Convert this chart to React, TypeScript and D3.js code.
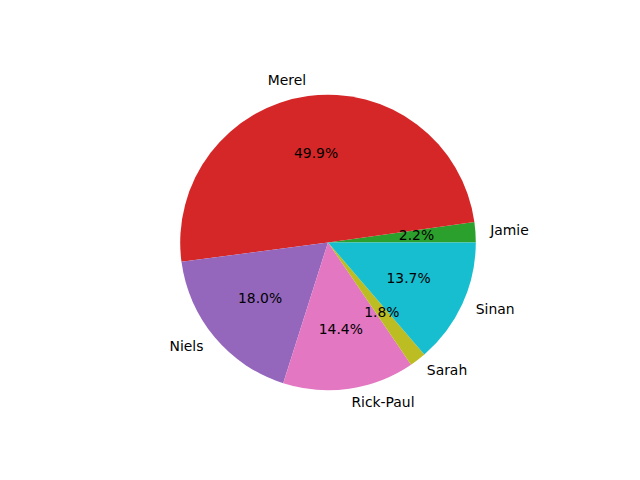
import React from "react";
import * as d3 from "d3";

// slice data, in drawing order (counter-clockwise from 3 o'clock)
const names = ["Jamie", "Merel", "Niels", "Rick-Paul", "Sarah", "Sinan"];
const shares = [2.2, 49.9, 18.0, 14.4, 1.8, 13.7];
const colors = ["#2ca02c", "#d62728", "#9467bd", "#e377c2", "#bcbd22", "#17becf"];

const W = 640;
const H = 480;
const cx = 328;
const cy = 242.4;
const R = 147.8;
const FONT = "DejaVu Sans, sans-serif";

export default function App() {
  const items = names.map((n, i) => ({ name: n, value: shares[i], color: colors[i] }));

  // matplotlib: start at east, go counter-clockwise
  const pie = d3
    .pie<{ name: string; value: number; color: string }>()
    .sort(null)
    .value((d) => d.value)
    .startAngle(Math.PI / 2)
    .endAngle(Math.PI / 2 - 2 * Math.PI);

  const arcs = pie(items);
  const arc = d3.arc<d3.PieArcDatum<any>>().innerRadius(0).outerRadius(R);
  const labelArc = d3.arc<d3.PieArcDatum<any>>().innerRadius(R * 1.1).outerRadius(R * 1.1);
  const pctArc = d3.arc<d3.PieArcDatum<any>>().innerRadius(R * 0.6).outerRadius(R * 0.6);

  return (
    <svg width={W} height={H} style={{ display: "block", margin: "-8px" }}>
      <rect width={W} height={H} fill="#ffffff" />
      <g transform={`translate(${cx},${cy})`}>
        {arcs.map((a) => (
          <path key={a.data.name} d={arc(a) || ""} fill={a.data.color} />
        ))}
        {arcs.map((a) => {
          const [lx, ly] = labelArc.centroid(a);
          return (
            <text
              key={"l" + a.data.name}
              x={lx}
              y={ly}
              dy="0.28em"
              textAnchor={lx > 0 ? "start" : "end"}
              fontFamily={FONT}
              fontSize={13.9}
              fill="#000"
            >
              {a.data.name}
            </text>
          );
        })}
        {arcs.map((a) => {
          const [px, py] = pctArc.centroid(a);
          return (
            <text
              key={"p" + a.data.name}
              x={px}
              y={py}
              dy="0.28em"
              textAnchor="middle"
              fontFamily={FONT}
              fontSize={13.9}
              fill="#000"
            >
              {a.data.value.toFixed(1) + "%"}
            </text>
          );
        })}
      </g>
    </svg>
  );
}
